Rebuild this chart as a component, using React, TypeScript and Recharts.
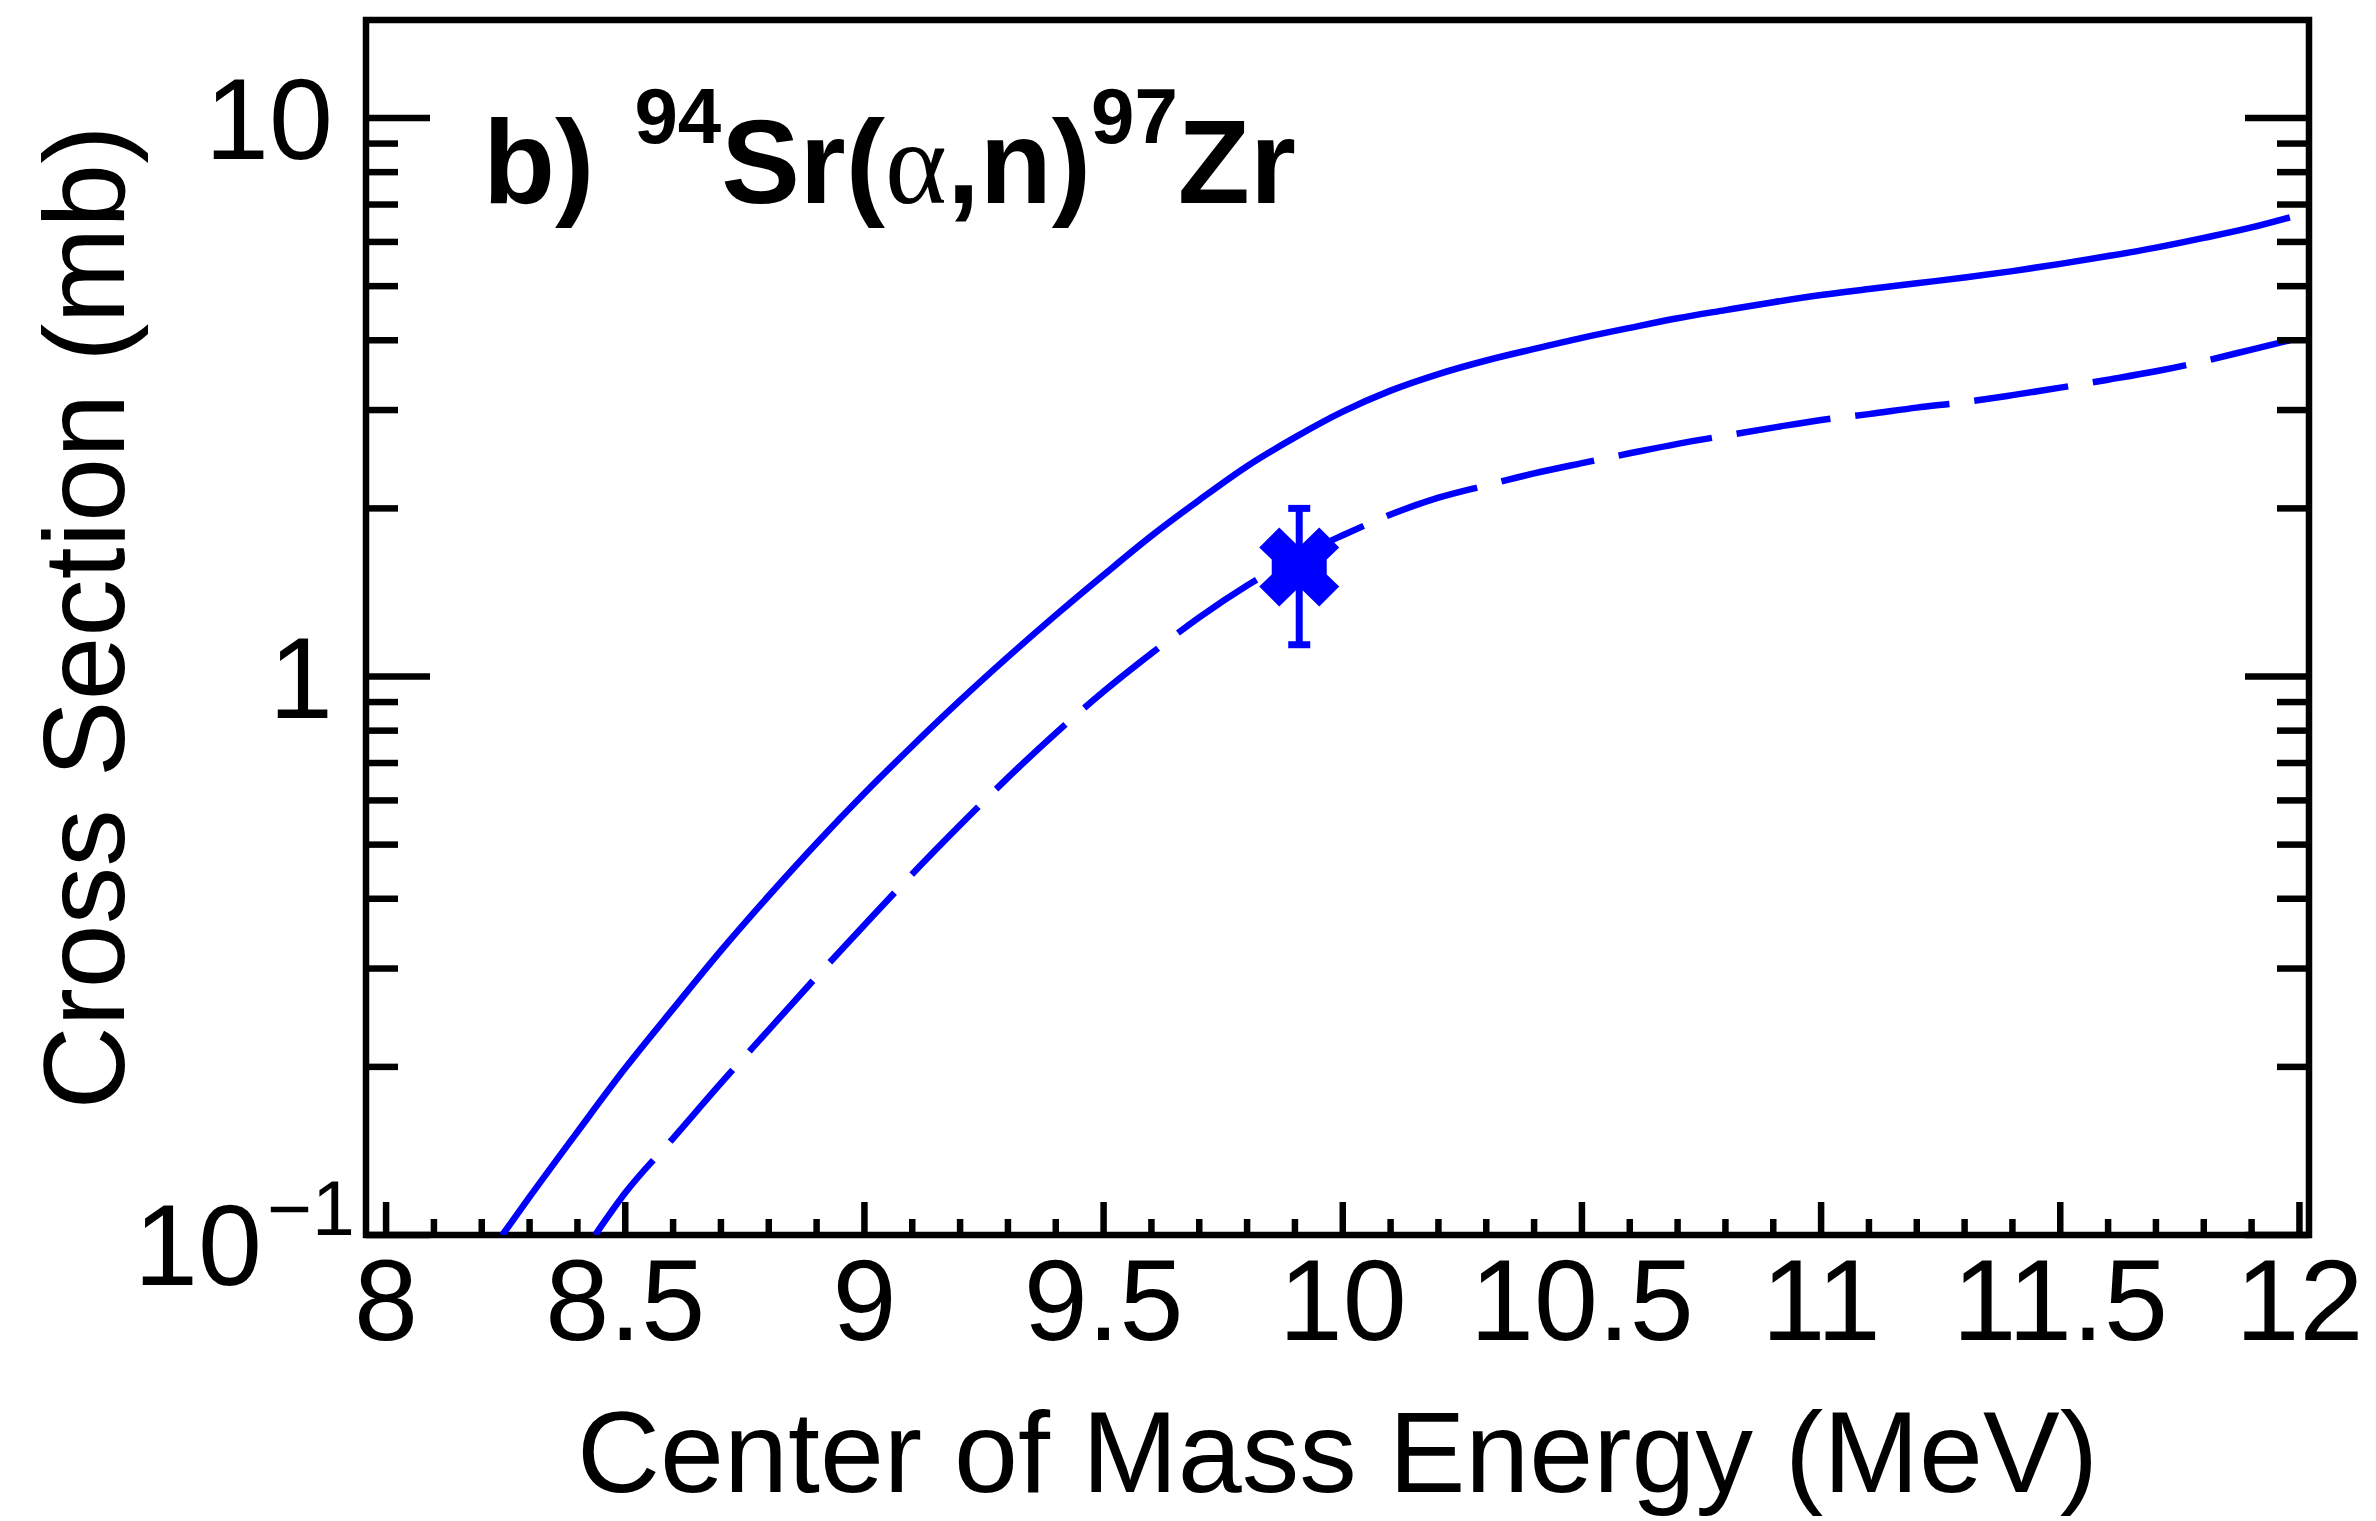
import React from 'react';
import { ComposedChart, Line, Scatter, ErrorBar, XAxis, YAxis, ReferenceArea } from 'recharts';

const FONT = '"Liberation Sans", Arial, Helvetica, sans-serif';
const BLUE = '#0000ff';

const X_DOMAIN: [number, number] = [7.958, 12.02];
const Y_DOMAIN: [number, number] = [0.1, 14.98];

const X_TICKS = [
  8, 8.1, 8.2, 8.3, 8.4, 8.5, 8.6, 8.7, 8.8, 8.9,
  9, 9.1, 9.2, 9.3, 9.4, 9.5, 9.6, 9.7, 9.8, 9.9,
  10, 10.1, 10.2, 10.3, 10.4, 10.5, 10.6, 10.7, 10.8, 10.9,
  11, 11.1, 11.2, 11.3, 11.4, 11.5, 11.6, 11.7, 11.8, 11.9, 12,
];
const X_MAJOR = [8, 8.5, 9, 9.5, 10, 10.5, 11, 11.5, 12];

const Y_TICKS = [
  0.1, 0.2, 0.3, 0.4, 0.5, 0.6, 0.7, 0.8, 0.9,
  1, 2, 3, 4, 5, 6, 7, 8, 9, 10,
];
const Y_MAJOR = [0.1, 1, 10];

// solid curve (energy MeV, cross section mb)
const solidE = [
  8.243, 8.3, 8.4, 8.5, 8.6, 8.7, 8.8, 8.9, 9.0, 9.1, 9.2, 9.3, 9.4, 9.5, 9.6, 9.7, 9.8, 9.9,
  10.0, 10.1, 10.2, 10.3, 10.4, 10.5, 10.6, 10.7, 10.8, 10.9, 11.0, 11.1, 11.2, 11.3, 11.4,
  11.5, 11.6, 11.7, 11.8, 11.9, 11.98,
];
const solidV = [
  0.1, 0.117, 0.153, 0.199, 0.254, 0.323, 0.405, 0.503, 0.618, 0.751, 0.906, 1.084, 1.288, 1.52, 1.786, 2.07, 2.38, 2.68,
  2.98, 3.25, 3.48, 3.68, 3.86, 4.04, 4.21, 4.38, 4.53, 4.68, 4.82, 4.94, 5.06, 5.18, 5.32,
  5.48, 5.66, 5.86, 6.1, 6.37, 6.64,
];

// dashed curve
const dashE = [
  8.437, 8.5, 8.6, 8.7, 8.8, 8.9, 9.0, 9.1, 9.2, 9.3, 9.4, 9.5, 9.6, 9.7, 9.8, 9.9,
  10.0, 10.1, 10.2, 10.3, 10.4, 10.5, 10.6, 10.7, 10.8, 10.9, 11.0, 11.1, 11.2, 11.3, 11.4,
  11.5, 11.6, 11.7, 11.8, 11.9, 11.98,
];
const dashV = [
  0.1, 0.119, 0.149, 0.187, 0.233, 0.29, 0.359, 0.443, 0.542, 0.659, 0.792, 0.94, 1.1, 1.276, 1.455, 1.63,
  1.79, 1.95, 2.09, 2.2, 2.31, 2.41, 2.51, 2.61, 2.7, 2.79, 2.88, 2.95, 3.03, 3.1, 3.19,
  3.29, 3.4, 3.52, 3.67, 3.85, 4.0,
];

// measured point
const pointE = [9.909];
const pointV = [1.57];
const pointErr = [0.43];

const solidData = solidE.map((e, i) => ({ e, v: solidV[i] }));
const dashData = dashE.map((e, i) => ({ e, v: dashV[i] }));
const pointData = pointE.map((e, i) => ({ e, v: pointV[i], err: pointErr[i] }));

const isMajor = (list: number[], v: number) => list.some(m => Math.abs(m - v) < 1e-9);

const BottomTick = (props: any) => {
  const { x, y, payload } = props;
  const major = isMajor(X_MAJOR, payload.value);
  return (
    <g>
      <line x1={x} x2={x} y1={y} y2={y - (major ? 33 : 16)} stroke="#000" strokeWidth={6.5} />
      {major && (
        <text x={x} y={y + 105} textAnchor="middle" fontFamily={FONT} fontSize={115} fill="#000">
          {String(payload.value)}
        </text>
      )}
    </g>
  );
};

const TopTick = (props: any) => {
  const { x, y, payload } = props;
  const major = isMajor(X_MAJOR, payload.value);
  return <line x1={x} x2={x} y1={y} y2={y + (major ? 33 : 16)} stroke="#000" strokeWidth={6.5} />;
};

const LeftTick = (props: any) => {
  const { x, y, payload } = props;
  const v = payload.value;
  const major = isMajor(Y_MAJOR, v);
  let label: React.ReactNode = null;
  if (major && v < 0.5) {
    label = (
      <g fontFamily={FONT} fill="#000">
        <text x={x - 104} y={y + 50} textAnchor="end" fontSize={115}>10</text>
        <text x={x - 99} y={y} textAnchor="start" fontSize={77}>{'\u22121'}</text>
      </g>
    );
  } else if (major) {
    label = (
      <text x={x - 33} y={y + 41} textAnchor="end" fontFamily={FONT} fontSize={115} fill="#000">
        {String(v)}
      </text>
    );
  }
  return (
    <g>
      <line x1={x} x2={x + (major ? 64 : 32)} y1={y} y2={y} stroke="#000" strokeWidth={6.5} />
      {label}
    </g>
  );
};

const RightTick = (props: any) => {
  const { x, y, payload } = props;
  const major = isMajor(Y_MAJOR, payload.value);
  return <line x1={x} x2={x - (major ? 64 : 32)} y1={y} y2={y} stroke="#000" strokeWidth={6.5} />;
};

const XMarker = (props: any) => {
  const { cx, cy } = props;
  if (cx == null || cy == null) return null;
  const pts = [
    [-40, -19.5], [-20, -39.5], [0, -20], [20, -39.5], [40, -19.5], [27.5, -7.5], [27.5, 7.5],
    [40, 19.5], [20, 39.5], [0, 20], [-20, 39.5], [-40, 19.5], [-27.5, 7.5], [-27.5, -7.5],
  ].map(([dx, dy]) => `${cx + dx},${cy + dy}`).join(' ');
  return <polygon points={pts} fill={BLUE} />;
};

export default function App() {
  return (
    <div style={{ position: 'absolute', left: 0, top: 0, width: 2376, height: 1521, background: '#fff' }}>
      <ComposedChart width={2376} height={1521} margin={{ top: 19, right: 66, bottom: 86, left: 66 }}>
        <XAxis
          xAxisId="b"
          dataKey="e"
          type="number"
          domain={X_DOMAIN}
          ticks={X_TICKS}
          allowDataOverflow
          interval={0}
          height={200}
          tickSize={0}
          tickMargin={0}
          tickLine={false}
          axisLine={false}
          tick={<BottomTick />}
          label={{
            content: (p: any) => {
              const vb = p.viewBox;
              return (
                <text x={vb.x + vb.width / 2} y={vb.y + 257} textAnchor="middle" fontFamily={FONT} fontSize={115} fill="#000">
                  Center of Mass Energy (MeV)
                </text>
              );
            },
          }}
        />
        <XAxis
          xAxisId="t"
          orientation="top"
          type="number"
          domain={X_DOMAIN}
          ticks={X_TICKS}
          allowDataOverflow
          interval={0}
          height={1}
          tickSize={0}
          tickMargin={0}
          tickLine={false}
          axisLine={false}
          tick={<TopTick />}
        />
        <YAxis
          yAxisId="l"
          dataKey="v"
          type="number"
          scale="log"
          domain={Y_DOMAIN}
          ticks={Y_TICKS}
          allowDataOverflow
          interval={0}
          width={300}
          tickSize={0}
          tickMargin={0}
          tickLine={false}
          axisLine={false}
          tick={<LeftTick />}
          label={{
            content: (p: any) => {
              const vb = p.viewBox;
              const cx = vb.x + 58;
              const cy = vb.y + vb.height / 2 - 10;
              return (
                <text x={cx} y={cy} transform={`rotate(-90 ${cx} ${cy})`} textAnchor="middle" fontFamily={FONT} fontSize={115} fill="#000">
                  Cross Section (mb)
                </text>
              );
            },
          }}
        />
        <YAxis
          yAxisId="r"
          orientation="right"
          type="number"
          scale="log"
          domain={Y_DOMAIN}
          ticks={Y_TICKS}
          allowDataOverflow
          interval={0}
          width={1}
          tickSize={0}
          tickMargin={0}
          tickLine={false}
          axisLine={false}
          tick={<RightTick />}
        />
        <Line
          xAxisId="b"
          yAxisId="l"
          data={solidData}
          dataKey="v"
          type="monotone"
          stroke={BLUE}
          strokeWidth={6.5}
          dot={false}
          activeDot={false}
          isAnimationActive={false}
        />
        <Line
          xAxisId="b"
          yAxisId="l"
          data={dashData}
          dataKey="v"
          type="monotone"
          stroke={BLUE}
          strokeWidth={6.5}
          strokeDasharray="95 25"
          dot={false}
          activeDot={false}
          isAnimationActive={false}
        />
        <Scatter xAxisId="b" yAxisId="l" data={pointData} dataKey="v" shape={<XMarker />} isAnimationActive={false}>
          <ErrorBar dataKey="err" direction="y" width={11} stroke={BLUE} strokeWidth={7} isAnimationActive={false} />
        </Scatter>
        <ReferenceArea
          xAxisId="b"
          yAxisId="l"
          x1={X_DOMAIN[0]}
          x2={X_DOMAIN[1]}
          y1={Y_DOMAIN[0]}
          y2={Y_DOMAIN[1]}
          fill="none"
          fillOpacity={0}
          stroke="#000"
          strokeWidth={6.5}
          ifOverflow="extendDomain"
        />
        <text x={483} y={203} fontFamily={FONT} fontWeight="bold" fontSize={118} fill="#000">
          <tspan>b)</tspan>
          <tspan dx={40} dy={-60} fontSize={78}>94</tspan>
          <tspan dy={60}>Sr(</tspan>
          <tspan fontFamily='"Liberation Serif", "DejaVu Serif", serif' fontWeight="normal">α</tspan>
          <tspan>,n)</tspan>
          <tspan dy={-60} fontSize={78}>97</tspan>
          <tspan dy={60}>Zr</tspan>
        </text>
      </ComposedChart>
    </div>
  );
}
